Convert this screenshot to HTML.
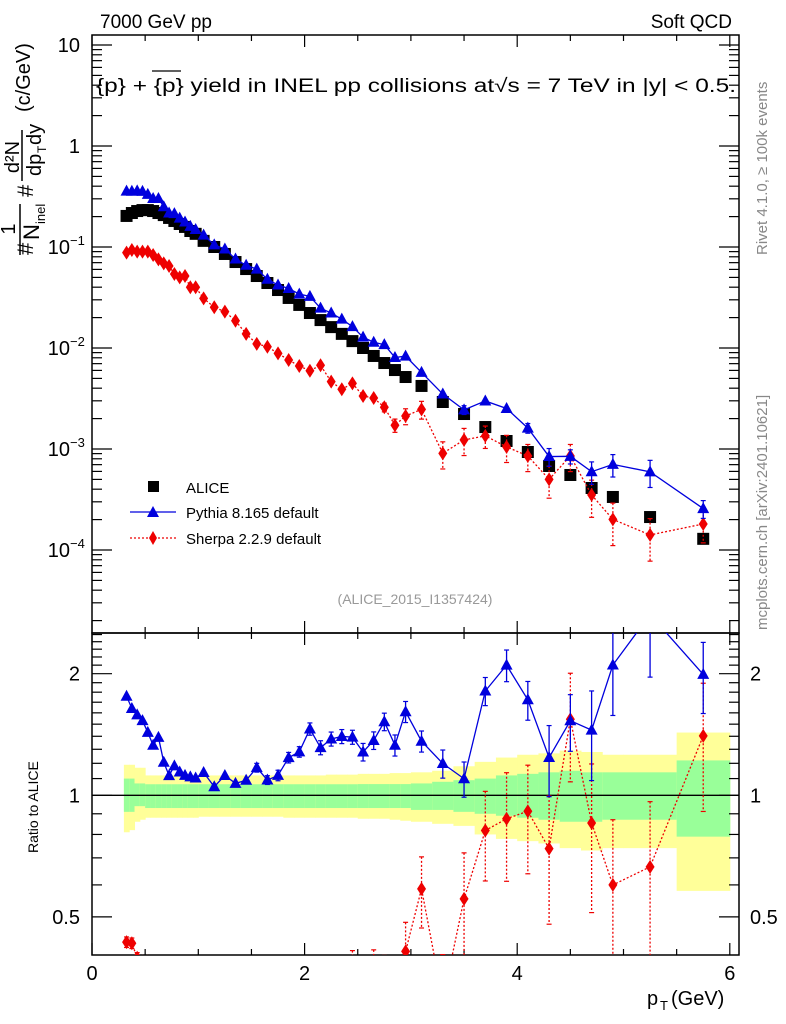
<!DOCTYPE html>
<html><head><meta charset="utf-8">
<style>
html,body{margin:0;padding:0;background:#fff;width:786px;height:1024px;overflow:hidden;}
svg{display:block;font-family:"Liberation Sans",sans-serif;}
</style></head>
<body>
<svg id="chart" width="786" height="1024" viewBox="0 0 786 1024" xmlns="http://www.w3.org/2000/svg">
<rect x="0" y="0" width="786" height="1024" fill="#fff"/>
<g id="bands"></g>
<g id="axes"></g>
<g id="series"></g>
<text x="100" y="28" font-size="19">7000 GeV pp</text>
<text x="732" y="28" font-size="19" text-anchor="end">Soft QCD</text>
<text x="96" y="92" font-size="19" textLength="640" lengthAdjust="spacingAndGlyphs">{p} + {p} yield in INEL pp collisions at√s =  7 TeV in |y| &lt; 0.5.</text>
<line x1="152" y1="71" x2="181" y2="71" stroke="#000" stroke-width="1.2"/>
<text transform="translate(767,255) rotate(-90)" font-size="15" fill="#888">Rivet 4.1.0, ≥ 100k events</text>
<text transform="translate(767,630) rotate(-90)" font-size="15" fill="#888">mcplots.cern.ch [arXiv:2401.10621]</text>
<text x="415" y="604" font-size="14" fill="#999" text-anchor="middle">(ALICE_2015_I1357424)</text>
<g transform="rotate(-90)">
  <text x="-255" y="33" font-size="22">#</text>
  <text x="-229" y="15" font-size="20" text-anchor="middle">1</text>
  <line x1="-255" y1="20" x2="-204" y2="20" stroke="#000" stroke-width="1.5"/>
  <text x="-240" y="39" font-size="22">N</text>
  <text x="-224" y="45" font-size="13">inel</text>
  <text x="-197" y="33" font-size="22">#</text>
  <text x="-157" y="19" font-size="20" text-anchor="middle">d²N</text>
  <line x1="-181" y1="22" x2="-130" y2="22" stroke="#000" stroke-width="1.5"/>
  <text x="-176" y="41" font-size="20">dp</text>
  <text x="-153" y="46" font-size="12">T</text>
  <text x="-145" y="41" font-size="20">dy</text>
  <text x="-112" y="30" font-size="20">(c/GeV)</text>
</g>
<text transform="translate(38,853) rotate(-90)" font-size="14">Ratio to ALICE</text>
<g>
  <text x="647" y="1005" font-size="20">p</text>
  <text x="660" y="1010" font-size="13">T</text>
  <text x="671" y="1005" font-size="20">(GeV)</text>
</g>
<g>
  <g>
    <rect x="148" y="481" width="11" height="11" fill="#000"/>
    <text x="186" y="493" font-size="15">ALICE</text>
  </g>
  <g>
    <line x1="130" y1="512" x2="176" y2="512" stroke="#0000dd" stroke-width="1.3"/>
    <polygon points="153,506 159,517 147,517" fill="#0000dd"/>
    <text x="186" y="518" font-size="15">Pythia 8.165 default</text>
  </g>
  <g>
    <line x1="130" y1="538" x2="176" y2="538" stroke="#ee0000" stroke-width="1.3" stroke-dasharray="2,2"/>
    <polygon points="153,531 157,538 153,545 149,538" fill="#ee0000"/>
    <text x="186" y="544" font-size="15">Sherpa 2.2.9 default</text>
  </g>
</g>
<script>
const pT = [0.325,0.375,0.425,0.475,0.525,0.575,0.625,0.675,0.725,0.775,0.825,0.875,0.925,0.975,
 1.05,1.15,1.25,1.35,1.45,1.55,1.65,1.75,1.85,1.95,2.05,2.15,2.25,2.35,2.45,2.55,2.65,2.75,2.85,2.95,
 3.1,3.3,3.5,3.7,3.9,4.1,4.3,4.5,4.7,4.9,5.25,5.75];
const binHalf = [0.025,0.025,0.025,0.025,0.025,0.025,0.025,0.025,0.025,0.025,0.025,0.025,0.025,0.025,
 0.05,0.05,0.05,0.05,0.05,0.05,0.05,0.05,0.05,0.05,0.05,0.05,0.05,0.05,0.05,0.05,0.05,0.05,0.05,0.05,
 0.1,0.1,0.1,0.1,0.1,0.1,0.1,0.1,0.1,0.1,0.25,0.25];
const alice = [0.203,0.217,0.227,0.232,0.232,0.227,0.217,0.207,0.194,0.181,0.169,0.158,0.144,0.135,
 0.115,0.100,0.0853,0.0710,0.0605,0.0516,0.0440,0.0375,0.0313,0.0267,0.0222,0.0189,0.0161,0.0138,0.0117,0.0100,0.00834,0.00710,0.00605,0.00516,
 0.00421,0.00292,0.00222,0.00165,0.00120,0.000934,0.000679,0.000553,0.000411,0.000335,0.000212,0.000129];
const pythia = [0.357,0.356,0.359,0.355,0.332,0.302,0.302,0.250,0.217,0.214,0.193,0.177,0.160,0.149,
 0.131,0.105,0.0955,0.0760,0.0659,0.0604,0.0480,0.0420,0.0388,0.0342,0.0324,0.0248,0.0222,0.0193,0.0163,0.0128,0.0114,0.0108,0.00805,0.00831,
 0.00573,0.00350,0.00244,0.00299,0.00252,0.00161,0.000842,0.000846,0.000596,0.000704,0.000594,0.000257];
const sherpa = [0.0879,0.0934,0.0899,0.0899,0.0899,0.0833,0.0755,0.0689,0.0649,0.0541,0.0501,0.0516,0.0399,0.0399,
 0.0310,0.0253,0.0229,0.0186,0.0138,0.0110,0.0103,0.00885,0.00760,0.00663,0.00596,0.00674,0.00464,0.00390,0.00447,0.00335,0.00320,0.00259,0.00172,0.00212,
 0.00247,0.000906,0.00123,0.00135,0.00105,0.000853,0.000501,0.000853,0.000351,0.000201,0.000141,0.000181];
const pythiaRelErr = [0.02,0.02,0.02,0.02,0.02,0.02,0.02,0.02,0.02,0.02,0.02,0.02,0.02,0.02,
 0.02,0.02,0.02,0.02,0.02,0.025,0.025,0.03,0.03,0.03,0.035,0.04,0.04,0.04,0.04,0.05,0.05,0.05,0.06,0.06,
 0.06,0.08,0.1,0.08,0.09,0.11,0.2,0.16,0.25,0.25,0.3,0.2];
const sherpaRelErr = [0.03,0.03,0.03,0.03,0.03,0.03,0.04,0.04,0.04,0.04,0.04,0.05,0.05,0.05,
 0.05,0.05,0.06,0.06,0.07,0.07,0.08,0.08,0.08,0.08,0.08,0.08,0.08,0.08,0.08,0.08,0.08,0.1,0.15,0.18,
 0.2,0.3,0.3,0.25,0.3,0.3,0.35,0.3,0.4,0.45,0.45,0.35];
const yellowHi = [1.19,1.19,1.17,1.17,1.12,1.12,1.12,1.12,1.12,1.12,1.12,1.12,1.12,1.12,
 1.12,1.12,1.12,1.12,1.12,1.12,1.12,1.12,1.12,1.12,1.12,1.12,1.125,1.125,1.125,1.13,1.13,1.13,1.135,1.135,
 1.14,1.15,1.18,1.21,1.24,1.26,1.27,1.29,1.28,1.26,1.26,1.43];
const yellowLo = [0.81,0.82,0.86,0.87,0.88,0.88,0.88,0.88,0.88,0.88,0.88,0.88,0.88,0.88,
 0.885,0.885,0.885,0.885,0.885,0.885,0.885,0.885,0.88,0.88,0.88,0.88,0.88,0.88,0.88,0.875,0.875,0.875,0.87,0.865,
 0.86,0.85,0.84,0.8,0.78,0.77,0.76,0.74,0.73,0.74,0.74,0.58];
const greenHi = [1.10,1.10,1.07,1.07,1.065,1.065,1.065,1.065,1.065,1.065,1.065,1.065,1.065,1.065,
 1.065,1.065,1.065,1.065,1.065,1.065,1.065,1.065,1.065,1.065,1.065,1.065,1.065,1.065,1.065,1.066,1.066,1.066,1.066,1.066,
 1.07,1.08,1.09,1.1,1.12,1.13,1.14,1.15,1.14,1.14,1.14,1.22];
const greenLo = [0.91,0.91,0.94,0.94,0.93,0.93,0.93,0.93,0.93,0.93,0.93,0.93,0.93,0.93,
 0.93,0.93,0.93,0.93,0.93,0.93,0.93,0.93,0.93,0.93,0.93,0.93,0.93,0.93,0.93,0.93,0.93,0.93,0.93,0.93,
 0.92,0.92,0.91,0.9,0.89,0.88,0.87,0.86,0.86,0.87,0.87,0.79];
const topTickLabels = ["10","1","10","10","10","10"];
const topTickExps = [null,null,"−1","−2","−3","−4"];
const ratioTickValues = [0.5,1,2];
const ratioTickLabels = ["0.5","1","2"];
const xTickValues = [0,2,4,6];
const xTickLabels = ["0","2","4","6"];

const NS = "http://www.w3.org/2000/svg";
const L = 92, R = 739, T1 = 35, B1 = 633, T2 = 633, B2 = 955;
const xS = v => 92 + v * 106.3;
const yTop = v => 146 - 101 * Math.log10(v);
const yRat = r => 795.3 - 121.6 * Math.log2(r);
function mk(tag, attrs, parent) {
  const e = document.createElementNS(NS, tag);
  for (const k in attrs) e.setAttribute(k, attrs[k]);
  parent.appendChild(e);
  return e;
}
const axes = document.getElementById('axes');
const bands = document.getElementById('bands');
const series = document.getElementById('series');

const defs = mk('defs', {}, document.getElementById('chart'));
const c1 = mk('clipPath', {id: 'clipTop'}, defs);
mk('rect', {x: L, y: T1, width: R - L, height: B1 - T1}, c1);
const c2 = mk('clipPath', {id: 'clipRat'}, defs);
mk('rect', {x: L, y: T2, width: R - L, height: B2 - T2}, c2);

for (let i = 0; i < pT.length; i++) {
  const x0 = xS(pT[i] - binHalf[i]), x1 = xS(pT[i] + binHalf[i]);
  const y = mk('rect', {x: x0, y: yRat(yellowHi[i]), width: x1 - x0 + 0.5, height: yRat(yellowLo[i]) - yRat(yellowHi[i]), fill: '#ffff99'}, bands);
  
  
  const g = mk('rect', {x: x0, y: yRat(greenHi[i]), width: x1 - x0 + 0.5, height: yRat(greenLo[i]) - yRat(greenHi[i]), fill: '#99ff99'}, bands);
  
  
}
mk('line', {x1: L, y1: yRat(1), x2: R, y2: yRat(1), stroke: '#000', 'stroke-width': 1.3}, axes);

const f1 = mk('rect', {x: L, y: T1, width: R - L, height: B1 - T1, fill: 'none', stroke: '#000', 'stroke-width': 1.5}, axes);


const f2 = mk('rect', {x: L, y: T2, width: R - L, height: B2 - T2, fill: 'none', stroke: '#000', 'stroke-width': 1.5}, axes);



for (let v = 0; v <= 6.01; v += 0.5) {
  const major = Math.abs(v - Math.round(v / 2) * 2) < 1e-6;
  const len = major ? 12 : 6;
  const x = xS(v);
  [[T1, 1], [B1, -1], [T2, 1], [B2, -1]].forEach(([y, d]) => {
    mk('line', {x1: x, y1: y, x2: x, y2: y + d * len, stroke: '#000', 'stroke-width': 1.2}, axes);
  });
}
xTickValues.forEach((v, i) => {
  const t = mk('text', {x: xS(v), y: 980, 'font-size': 20, 'text-anchor': 'middle'}, axes);
  t.textContent = xTickLabels[i];
  
  
});

for (let e = -5; e <= 1; e++) {
  for (let m = 1; m <= 9; m++) {
    const v = m * Math.pow(10, e);
    const y = yTop(v);
    if (y < T1 || y > B1) continue;
    const len = m === 1 ? 20 : 10;
    mk('line', {x1: L, y1: y, x2: L + len, y2: y, stroke: '#000', 'stroke-width': 1.2}, axes);
    mk('line', {x1: R, y1: y, x2: R - len, y2: y, stroke: '#000', 'stroke-width': 1.2}, axes);
  }
}
topTickLabels.forEach((lab, i) => {
  const y = yTop(Math.pow(10, 1 - i));
  const t = mk('text', {x: topTickExps[i] ? 70 : 80, y: y + 7, 'font-size': 20, 'text-anchor': 'end'}, axes);
  t.textContent = lab;
  
  
  if (topTickExps[i]) {
    const s = mk('text', {x: 70, y: y - 2, 'font-size': 13}, axes);
    s.textContent = topTickExps[i];
    
    
  }
});

for (let r = 0.4; r <= 2.55; r += 0.1) {
  const rr = Math.round(r * 10) / 10;
  const y = yRat(rr);
  if (y < T2 || y > B2) continue;
  const major = ratioTickValues.includes(rr);
  const len = major ? 20 : 10;
  mk('line', {x1: L, y1: y, x2: L + len, y2: y, stroke: '#000', 'stroke-width': 1.2}, axes);
  mk('line', {x1: R, y1: y, x2: R - len, y2: y, stroke: '#000', 'stroke-width': 1.2}, axes);
}
ratioTickValues.forEach((v, i) => {
  const y = yRat(v) + 7;
  const t = mk('text', {x: 80, y: y, 'font-size': 20, 'text-anchor': 'end'}, axes);
  t.textContent = ratioTickLabels[i];
  
  
  const t2 = mk('text', {x: 750, y: y, 'font-size': 20}, axes);
  t2.textContent = ratioTickLabels[i];
  
  
});

function tri(g, x, y, col) { mk('polygon', {points: `${x},${y-6.5} ${x+6},${y+4.5} ${x-6},${y+4.5}`, fill: col}, g); }
function dia(g, x, y, col) { mk('polygon', {points: `${x},${y-7} ${x+4.5},${y} ${x},${y+7} ${x-4.5},${y}`, fill: col}, g); }

function drawMC(vals, errs, col, dash, marker, name, toY, ratio, clip) {
  const g = mk('g', {'clip-path': `url(#${clip})`}, series);
  
  
  const v = vals.map((a, i) => ratio ? a / alice[i] : a);
  const pts = v.map((a, i) => `${xS(pT[i])},${toY(a)}`).join(' ');
  const attrs = {points: pts, fill: 'none', stroke: col, 'stroke-width': 1.3};
  if (dash) attrs['stroke-dasharray'] = dash;
  mk('polyline', attrs, g);
  v.forEach((a, i) => {
    const x = xS(pT[i]);
    const y1 = toY(a * (1 + errs[i])), y2 = toY(a * (1 - errs[i]));
    if (y2 - y1 > 8) {
      const ea = {x1: x, y1: y1, x2: x, y2: y2, stroke: col, 'stroke-width': 1.3};
      if (dash) ea['stroke-dasharray'] = dash;
      mk('line', ea, g);
      mk('line', {x1: x - 2.5, y1: y1, x2: x + 2.5, y2: y1, stroke: col, 'stroke-width': 1.2}, g);
      mk('line', {x1: x - 2.5, y1: y2, x2: x + 2.5, y2: y2, stroke: col, 'stroke-width': 1.2}, g);
    }
    marker(g, x, toY(a), col);
  });
}

const ga = mk('g', {'clip-path': 'url(#clipTop)'}, series);


alice.forEach((a, i) => {
  const r = mk('rect', {x: xS(pT[i]) - 6, y: yTop(a) - 6, width: 12, height: 12, fill: '#000'}, ga);
  
  
});
drawMC(sherpa, sherpaRelErr, '#ee0000', '2,2', dia, 'sherpa-series', yTop, false, 'clipTop');
drawMC(pythia, pythiaRelErr, '#0000dd', null, tri, 'pythia-series', yTop, false, 'clipTop');
drawMC(sherpa, sherpaRelErr, '#ee0000', '2,2', dia, 'sherpa-ratio-series', yRat, true, 'clipRat');
drawMC(pythia, pythiaRelErr, '#0000dd', null, tri, 'pythia-ratio-series', yRat, true, 'clipRat');
</script>
</svg>
</body></html>
